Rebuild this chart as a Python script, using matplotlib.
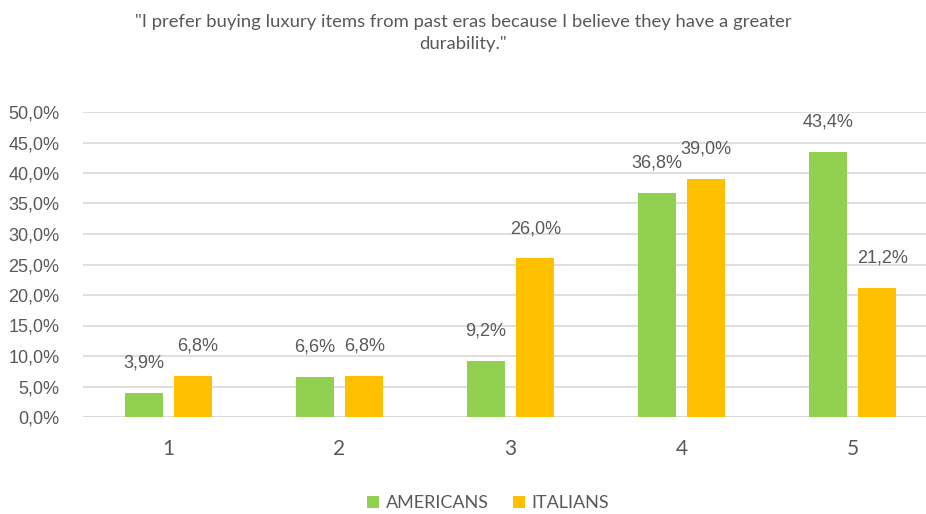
import numpy as np
import matplotlib
matplotlib.use("Agg")
import matplotlib.pyplot as plt

# Survey answers on a 1-5 agreement scale, share of respondents (%)
categories = ["1", "2", "3", "4", "5"]
americans = [3.9, 6.6, 9.2, 36.8, 43.4]
italians = [6.8, 6.8, 26.0, 39.0, 21.2]
title = ('"I prefer buying luxury items from past eras because I believe they have a greater\n'
         'durability."')

GREEN = "#92D050"
ORANGE = "#FFC000"
TEXT = "#595959"
GRID = "#D9D9D9"


def pct(v):
    return f"{v:.1f}%".replace(".", ",")


fig = plt.figure(figsize=(9.26, 5.14), dpi=100)
ax = fig.add_axes([83 / 926, 1 - 417 / 514, 1 - 83 / 926, 305 / 514])

x = np.arange(1, len(categories) + 1)
w = 0.222
off = 0.145
b1 = ax.bar(x - off, americans, w, color=GREEN, label="AMERICANS", zorder=2)
b2 = ax.bar(x + off, italians, w, color=ORANGE, label="ITALIANS", zorder=2)

# value labels sit ~30px above each bar, a couple nudged sideways
nudge_am = [0, 0, 0, 0, 0]
nudge_it = [3, 0, 0, 0, 4]
for bars, vals, nudge in ((b1, americans, nudge_am), (b2, italians, nudge_it)):
    for rect, v, dx in zip(bars, vals, nudge):
        ax.annotate(pct(v), (rect.get_x() + rect.get_width() / 2, v),
                    xytext=(dx, 21.5), textcoords="offset points",
                    ha="center", va="center", fontsize=13, color=TEXT,
                    family="Liberation Sans")

ax.set_xlim(0.5, 0.5 + 843 / 171)
ax.set_ylim(0, 50)
ax.set_yticks(np.arange(0, 51, 5))
ax.set_yticklabels([pct(v) for v in np.arange(0, 51, 5)],
                   fontsize=13, color=TEXT, family="Liberation Sans")
ax.set_xticks(x)
ax.set_xticklabels(categories, fontsize=15, color=TEXT, family="Lato")
ax.tick_params(axis="y", length=0, pad=17)
ax.tick_params(axis="x", length=0, pad=16)
ax.grid(axis="y", color=GRID, linewidth=1.2, zorder=0)
ax.set_axisbelow(True)
for s in ax.spines.values():
    s.set_visible(False)
ax.axhline(0, color=GRID, linewidth=1.4, zorder=1)

fig.text(463 / 926, 1 - 33 / 514, title, ha="center", va="center",
         fontsize=13.3, color=TEXT, family="Lato", linespacing=1.5)

fig.legend(handles=[b1, b2], loc="center", bbox_to_anchor=(488 / 926, 1 - 503 / 514),
           ncol=2, frameon=False, labelcolor=TEXT,
           prop={"family": "Lato", "size": 13},
           handlelength=0.65, handleheight=0.65, handletextpad=0.35, columnspacing=1.35)

fig.savefig("out.png", dpi=100)
